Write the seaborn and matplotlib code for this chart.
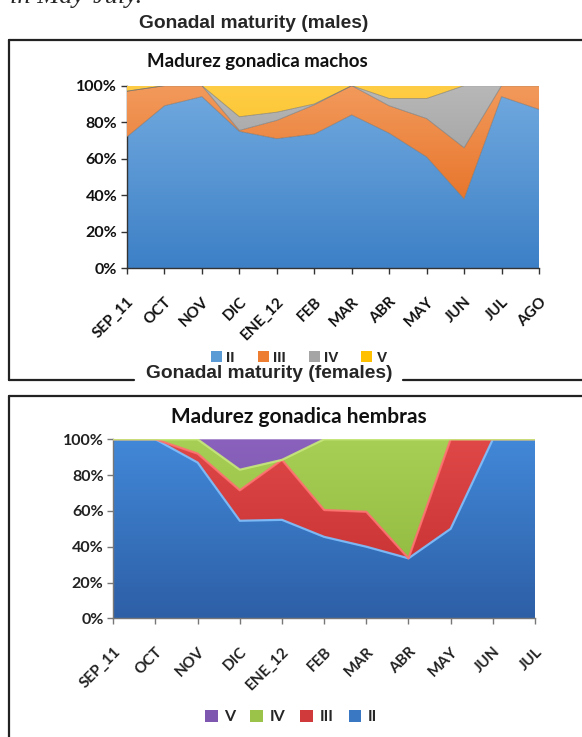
import numpy as np
import matplotlib
matplotlib.use("Agg")
import matplotlib.pyplot as plt
import seaborn as sns
from matplotlib.colors import LinearSegmentedColormap
from matplotlib.patches import PathPatch, Patch
from matplotlib.lines import Line2D
from matplotlib.ticker import PercentFormatter

# ---------------- data ----------------
male_months = ["SEP_11", "OCT", "NOV", "DIC", "ENE_12", "FEB", "MAR", "ABR", "MAY", "JUN", "JUL", "AGO"]
male_II = [72, 89, 94, 75, 71, 73.5, 84, 74, 61, 38, 94, 87]
male_III = [25, 11, 6, 0.5, 10, 16, 16, 15, 21, 28, 6, 13]
male_IV = [0, 0, 0, 7.5, 4.5, 0.5, 0, 4, 11, 34, 0, 0]
male_V = [3, 0, 0, 17, 14.5, 10, 0, 7, 7, 0, 0, 0]

female_months = ["SEP_11", "OCT", "NOV", "DIC", "ENE_12", "FEB", "MAR", "ABR", "MAY", "JUN", "JUL"]
female_II = [100, 100, 87, 54.5, 55, 45.5, 40, 33.5, 50, 100, 100]
female_III = [0, 0, 5, 17, 33.5, 15, 19.5, 0, 50, 0, 0]
female_IV = [0, 0, 8, 11.5, 0, 39.5, 40.5, 66.5, 0, 0, 0]
female_V = [0, 0, 0, 17, 11.5, 0, 0, 0, 0, 0, 0]

stage_names = ["II", "III", "IV", "V"]

# ---------------- style ----------------
sns.set_theme(style="white")
plt.rcParams["font.family"] = ["Lato", "DejaVu Sans"]

W, H = 582, 737
fig = plt.figure(figsize=(W / 100, H / 100), dpi=100)
fig.patch.set_facecolor("white")


def fx(x):
    return x / W


def fy(y):
    return 1 - y / H


def grad_fill(ax, x, lo, hi, c_top, c_bot, z):
    poly = ax.fill_between(x, lo, hi, color="none", lw=0)
    path = poly.get_paths()[0]
    patch = PathPatch(path, transform=ax.transData, facecolor="none", edgecolor="none")
    ax.add_patch(patch)
    cmap = LinearSegmentedColormap.from_list("g", [c_bot, c_top])
    im = ax.imshow(np.linspace(0, 1, 256).reshape(-1, 1), cmap=cmap, aspect="auto",
                   extent=[x[0], x[-1], 0, 100], origin="lower", zorder=z,
                   interpolation="bilinear")
    im.set_clip_path(patch)


# ---------------- page decorations ----------------
fig.text(fx(10), fy(3), "in May-July.", fontsize=19, family="Liberation Serif",
         style="italic", va="baseline", ha="left")
fig.text(fx(254), fy(23), "Gonadal maturity (males)", fontsize=13.8, fontweight="bold",
         family="Liberation Sans", ha="center", va="center")
fig.text(fx(269), fy(374), "Gonadal maturity (females)", fontsize=13.8, fontweight="bold",
         family="Liberation Sans", ha="center", va="center")

lc = "#222222"
lw = 1.6
for xs, ys in [([8.5, 8.5], [40, 380]), ([8.5, 585], [40, 40]), ([8.5, 134], [380, 380]),
               ([403, 585], [380, 380]), ([9, 585], [396, 396]), ([9, 9], [396, 740])]:
    fig.add_artist(Line2D([fx(v) for v in xs], [fy(v) for v in ys], color=lc, lw=lw))


def style_axes(ax, labels, spine_col, lab_col):
    ax.set_xlim(0, len(labels) - 1)
    ax.set_ylim(0, 100)
    ax.set_yticks([0, 20, 40, 60, 80, 100])
    ax.yaxis.set_major_formatter(PercentFormatter(decimals=0))
    ax.set_xticks(np.arange(len(labels)))
    ax.set_xticklabels(labels, rotation=45, ha="right", va="top", rotation_mode="anchor")
    for lab in ax.get_xticklabels():
        lab.set_fontweight("bold")
        lab.set_fontsize(11)
        lab.set_color(lab_col)
    for lab in ax.get_yticklabels():
        lab.set_fontweight("bold")
        lab.set_fontsize(11.5)
        lab.set_color(lab_col)
    for sp in ["top", "right"]:
        ax.spines[sp].set_visible(False)
    for sp in ["left", "bottom"]:
        ax.spines[sp].set_color(spine_col)
        ax.spines[sp].set_linewidth(1.0)
    ax.tick_params(axis="both", which="major", length=4, width=1.0, color=spine_col,
                   direction="out", left=True, bottom=True)
    ax.tick_params(axis="y", pad=3)
    ax.tick_params(axis="x", pad=15)
    ax.set_xlabel("")
    ax.set_ylabel("")


# ---------------- males chart ----------------
axm = fig.add_axes([fx(127), fy(268.3), fx(539) - fx(127), (268.3 - 85.7) / H])
xm = np.arange(len(male_months))
male_series = [male_II, male_III, male_IV, male_V]
male_cols = [("#72aae0", "#3d80c6"), ("#f29a5c", "#e2600f"), ("#b8b8b8", "#8a8a8a"), ("#ffcd45", "#f0b400")]
male_leg = ["#5b9bd5", "#ed7d31", "#a5a5a5", "#ffc000"]
cum = np.zeros(len(xm))
for i, s in enumerate(male_series):
    top = cum + np.array(s)
    grad_fill(axm, xm, cum, top, male_cols[i][0], male_cols[i][1], 2 + i)
    cum = top
bound = np.zeros(len(xm))
for i, s in enumerate(male_series[:-1]):
    bound = bound + np.array(s)
    sns.lineplot(x=xm, y=bound, ax=axm, color="#666666", lw=0.6, alpha=0.6, zorder=10)
style_axes(axm, male_months, "#333333", "#111111")
fig.text(fx(257), fy(62), "Madurez gonadica machos", fontsize=13.4, fontweight="bold",
         ha="center", va="center", color="#111111")

hm = [Patch(facecolor=c, edgecolor="none") for c in male_leg]
fig.legend(hm, stage_names, loc="center", bbox_to_anchor=(fx(299), fy(358)), ncol=4,
           frameon=False, handlelength=0.7, handleheight=0.7, handletextpad=0.3,
           columnspacing=1.5, prop={"family": "Liberation Sans", "weight": "bold", "size": 11})

# ---------------- females chart ----------------
axf = fig.add_axes([fx(113.3), fy(618.3), fx(535) - fx(113.3), 179 / H])
xf = np.arange(len(female_months))
female_series = [female_II, female_III, female_IV, female_V]
female_cols = [("#4288d8", "#2d5fa6"), ("#e04848", "#c02c2c"), ("#a8cf55", "#8ab53a"), ("#8a62bd", "#6d4a9e")]
female_edge = ["#7cc0ff", "#ff7070", "#c6e87a", "#a788d6"]
female_leg = ["#3a78c4", "#d03a3a", "#9bc34a", "#7e57b0"]
cum = np.zeros(len(xf))
for i, s in enumerate(female_series):
    top = cum + np.array(s)
    grad_fill(axf, xf, cum, top, female_cols[i][0], female_cols[i][1], 2 + i)
    cum = top
bound = np.zeros(len(xf))
for i, s in enumerate(female_series[:-1]):
    bound = bound + np.array(s)
    sns.lineplot(x=xf, y=bound, ax=axf, color=female_edge[i], lw=1.6, alpha=0.9, zorder=10)
style_axes(axf, female_months, "#777777", "#222222")
fig.text(fx(299), fy(417), "Madurez gonadica hembras", fontsize=15, fontweight="bold",
         ha="center", va="center", color="#111111")

order = [3, 2, 1, 0]
hf = [Patch(facecolor=female_leg[i], edgecolor="none") for i in order]
fig.legend(hf, [stage_names[i] for i in order], loc="center", bbox_to_anchor=(fx(291), fy(717)),
           ncol=4, frameon=False, handlelength=0.8, handleheight=0.8, handletextpad=0.4,
           columnspacing=0.95, prop={"family": "Lato", "weight": "bold", "size": 11.5})

fig.savefig("out.png", dpi=100)
